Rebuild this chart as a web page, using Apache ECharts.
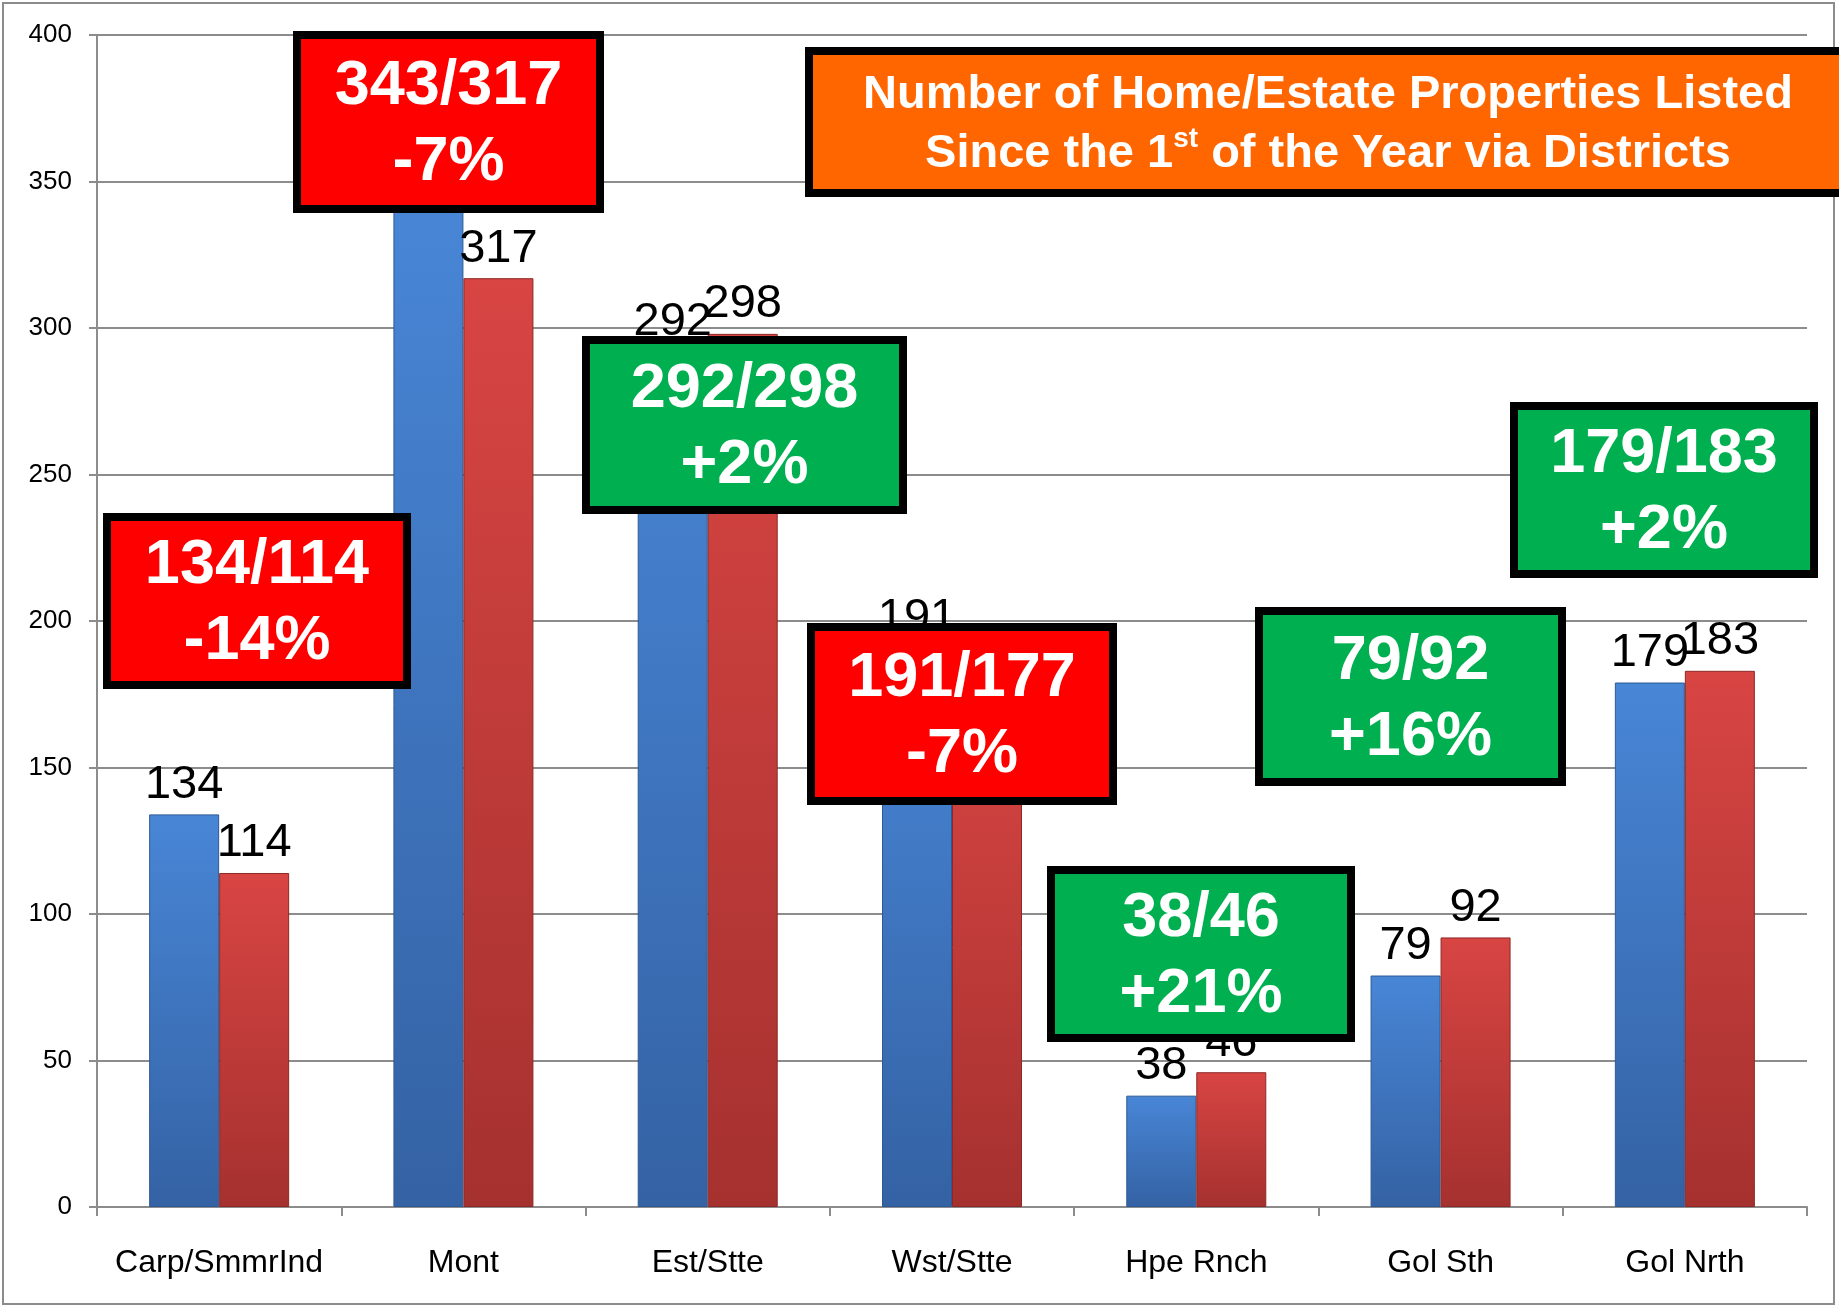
<!DOCTYPE html>
<html><head><meta charset="utf-8">
<script src="https://cdn.jsdelivr.net/npm/echarts@6/dist/echarts.min.js"></script>
<style>html,body{margin:0;padding:0;background:#fff}#c{width:1839px;height:1308px}</style>
</head><body><div id="c"></div>
<script>
// ---- data ----
const categories = ['Carp/SmmrInd', 'Mont', 'Est/Stte', 'Wst/Stte', 'Hpe Rnch', 'Gol Sth', 'Gol Nrth'];
const listedPrev = [134, 343, 292, 191, 38, 79, 179];
const listedCurr = [114, 317, 298, 177, 46, 92, 183];
const changeLabels = ['-14%', '-7%', '+2%', '-7%', '+21%', '+16%', '+2%'];
const yMin = 0, yMax = 400, yInterval = 50;
const titleLine1 = 'Number of Home/Estate Properties Listed';
const titleLine2a = 'Since the 1';
const titleSup = 'st';
const titleLine2b = ' of the Year via Districts';

// ---- layout of callout boxes (pixels) ----
const boxLayout = [
  {i: 0, x: 103, y: 513, w: 308, h: 176},
  {i: 1, x: 293, y: 31, w: 311, h: 182},
  {i: 2, x: 582, y: 336, w: 325, h: 178},
  {i: 3, x: 807, y: 623, w: 310, h: 182},
  {i: 4, x: 1047, y: 866, w: 308, h: 176},
  {i: 5, x: 1255, y: 607, w: 311, h: 179},
  {i: 6, x: 1510, y: 402, w: 308, h: 176}
];

const chart = echarts.init(document.getElementById('c'), null, {renderer: 'canvas'});
const gray = '#8c8c8c';
const baseFont = "'Liberation Sans',Arial,sans-serif";

const graphics = [];
// outer border
graphics.push({type: 'rect', z: 0, silent: true,
  shape: {x: 3, y: 3, width: 1831, height: 1301},
  style: {fill: null, stroke: gray, lineWidth: 2}});
// title box
graphics.push({type: 'rect', z: 100,
  shape: {x: 809, y: 51, width: 1050, height: 142},
  style: {fill: '#ff6600', stroke: '#000', lineWidth: 8}});
graphics.push({type: 'text', z: 101,
  style: {
    text: '{a|' + titleLine1 + '}\n{a|' + titleLine2a + '}{s|' + titleSup + '}{a|' + titleLine2b + '}',
    x: 1328, y: 125, align: 'center', verticalAlign: 'middle',
    rich: {
      a: {fontSize: 47, fontWeight: 'bold', fontFamily: baseFont, fill: '#fff', lineHeight: 59},
      s: {fontSize: 28, fontWeight: 'bold', fontFamily: baseFont, fill: '#fff', lineHeight: 59, verticalAlign: 'top', padding: [0, 0, 18, 0]}
    }
  }});
boxLayout.forEach(b => {
  const neg = changeLabels[b.i].charAt(0) === '-';
  graphics.push({type: 'rect', z: 100,
    shape: {x: b.x + 4, y: b.y + 4, width: b.w - 8, height: b.h - 8},
    style: {fill: neg ? '#ff0000' : '#00b050', stroke: '#000', lineWidth: 8}});
  graphics.push({type: 'text', z: 101,
    style: {
      text: listedPrev[b.i] + '/' + listedCurr[b.i] + '\n' + changeLabels[b.i],
      x: b.x + b.w / 2, y: b.y + b.h / 2 + 3, align: 'center', verticalAlign: 'middle',
      fontSize: 63, fontWeight: 'bold', fontFamily: baseFont,
      fill: '#fff', lineHeight: 76
    }});
});

const blueGrad = new echarts.graphic.LinearGradient(0, 0, 0, 1, [
  {offset: 0, color: '#4886d6'}, {offset: 1, color: '#3462a4'}]);
const redGrad = new echarts.graphic.LinearGradient(0, 0, 0, 1, [
  {offset: 0, color: '#d84543'}, {offset: 1, color: '#a5312f'}]);

const barLabel = {show: true, position: 'top', distance: 6, color: '#000',
  fontSize: 47, fontFamily: baseFont};

chart.setOption({
  animation: false,
  backgroundColor: '#fff',
  grid: {left: 97, right: 32, top: 35, bottom: 101, containLabel: false},
  xAxis: {
    type: 'category', data: categories,
    axisLine: {show: true, lineStyle: {color: gray, width: 2}},
    axisTick: {show: true, length: 9, interval: 0, lineStyle: {color: gray, width: 2}},
    axisLabel: {margin: 40, fontSize: 32, color: '#000', interval: 0, fontFamily: baseFont},
    splitLine: {show: false}
  },
  yAxis: {
    type: 'value', min: yMin, max: yMax, interval: yInterval,
    axisLine: {show: true, lineStyle: {color: gray, width: 2}},
    axisTick: {show: true, length: 8, lineStyle: {color: gray, width: 2}},
    axisLabel: {margin: 25, fontSize: 26, color: '#000', fontFamily: baseFont},
    splitLine: {show: true, lineStyle: {color: gray, width: 2}}
  },
  series: [
    {type: 'bar', name: 'Prev', data: listedPrev, barWidth: 70, barGap: '0%',
      itemStyle: {color: blueGrad, borderColor: '#2d5a94', borderWidth: 1},
      label: barLabel},
    {type: 'bar', name: 'Curr', data: listedCurr, barWidth: 70, barGap: '0%',
      itemStyle: {color: redGrad, borderColor: '#8e2826', borderWidth: 1},
      label: barLabel}
  ],
  graphic: graphics
});
</script>
</body></html>
